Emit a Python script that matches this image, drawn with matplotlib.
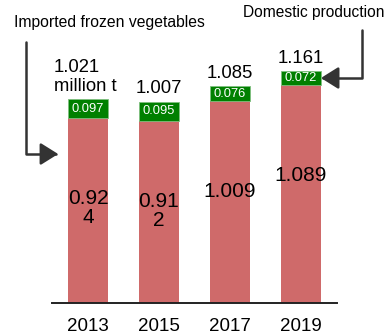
import matplotlib
matplotlib.use('Agg')
import matplotlib.pyplot as plt

years = ["2013", "2015", "2017", "2019"]
domestic = [0.924, 0.912, 1.009, 1.089]
imported = [0.097, 0.095, 0.076, 0.072]
totals = [1.021, 1.007, 1.085, 1.161]

RED = "#CF6A6A"
GREEN = "#008000"
DARK = "#333333"

plt.rcParams["font.family"] = ["Liberation Sans", "DejaVu Sans"]

W, H = 392, 331
fig = plt.figure(figsize=(W / 100, H / 100), dpi=100)
# axes spans from x=52px to 337px, baseline at 303px from the top
ax = fig.add_axes([52 / W, (H - 303) / H, 285 / W, 303 / H])
ax.set_xlim(-0.507, 3.507)
ax.set_ylim(0, 1.515)

x = range(len(years))
width = 0.56
ax.bar(x, domestic, width, color=RED, zorder=2)
ax.bar(x, imported, width, bottom=domestic, color=GREEN,
       edgecolor="#7fbf7f", linewidth=0.6, zorder=2)

for i, (d, m, t) in enumerate(zip(domestic, imported, totals)):
    s = f"{d:.3f}"
    if d < 1:
        s = s[:4] + "\n" + s[4:]
    ax.text(i, d - 0.45, s, ha="center", va="center", fontsize=15,
            linespacing=1.0, color="black", zorder=3)
    ax.text(i, d + m / 2, f"{m:.3f}", ha="center", va="center",
            fontsize=9.3, color="white", zorder=3)
    top = f"{t:.3f}" + ("\nmillion t" if i == 0 else "")
    ax.annotate(top, (i, t), xytext=(-2 if i == 0 else 0, 3),
                textcoords="offset points",
                ha="center", va="bottom", fontsize=13.3,
                multialignment="left", linespacing=1.1)

for s in ["left", "right", "top"]:
    ax.spines[s].set_visible(False)
ax.spines["bottom"].set_linewidth(1.4)
ax.spines["bottom"].set_color("#222222")
ax.set_yticks([])
ax.set_xticks(list(x))
ax.set_xticklabels(years, fontsize=13.5)
ax.tick_params(axis="x", length=0, pad=11)

fig.text(109 / W, 1 - 22 / H, "Imported frozen vegetables", ha="center",
         va="center", fontsize=11.3)
fig.text(314 / W, 1 - 12 / H, "Domestic production", ha="center",
         va="center", fontsize=11.2)

arrow = dict(arrowstyle="-|>,head_length=0.4,head_width=0.25",
             mutation_scale=27, color=DARK, lw=1.8,
             shrinkA=0, shrinkB=0,
             connectionstyle="angle,angleA=90,angleB=0,rad=0")
ax.annotate("", xy=(-0.42, 0.745), xycoords="data",
            xytext=(26, H - 42), textcoords="figure pixels",
            arrowprops=arrow)
ax.annotate("", xy=(3 + width / 2, domestic[3] + imported[3] / 2),
            xycoords="data",
            xytext=(362, H - 30), textcoords="figure pixels",
            arrowprops=arrow)

fig.savefig("out.png", dpi=100, facecolor="white")
